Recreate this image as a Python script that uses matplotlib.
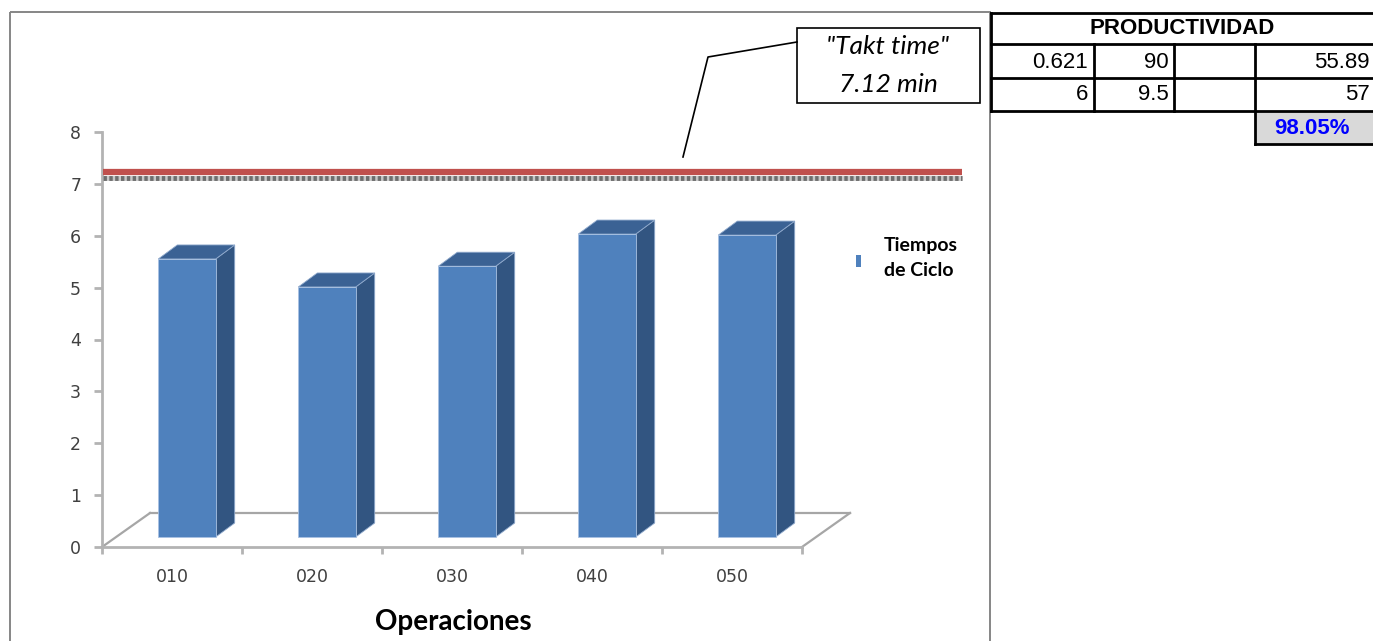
import numpy as np
import matplotlib
matplotlib.use('Agg')
import matplotlib.pyplot as plt
from matplotlib.patches import Polygon, Rectangle

# Data
categories = ['010', '020', '030', '040', '050']
tiempos_ciclo = [5.36, 4.82, 5.22, 5.84, 5.82]
takt_time = 7.12
y_ticks = [0, 1, 2, 3, 4, 5, 6, 7, 8]

# Table on the right
tabla_titulo = 'PRODUCTIVIDAD'
fila_1 = ['0.621', '90', '', '55.89']
fila_2 = ['6', '9.5', '', '57']
productividad = '98.05%'

W, H = 1373, 641
fig = plt.figure(figsize=(W / 100, H / 100), dpi=100)

# overlay axes in pixel coordinates for frame, callout and table
ov = fig.add_axes([0, 0, 1, 1], zorder=0)
ov.set_xlim(0, W)
ov.set_ylim(H, 0)
ov.axis('off')

# chart area frame
ov.add_patch(Rectangle((10, 12), 980, 640, fill=False, ec='#868686', lw=1.4))

# main axes (front plane of the 3D chart)
ax = fig.add_axes([102 / W, 1 - 547 / H, 700 / W, 415 / H], zorder=1)
ax.set_facecolor('none')
n = len(categories)
ax.set_xlim(0, n)
ax.set_ylim(0, 8)
sx = 700 / n      # px per x unit
sy = 415 / 8      # px per y unit

for s in ['top', 'right']:
    ax.spines[s].set_visible(False)
for s in ['left', 'bottom']:
    ax.spines[s].set_color('#b3b3b3')
    ax.spines[s].set_linewidth(2)

ax.set_yticks(y_ticks)
ax.tick_params(axis='y', length=6, width=2, color='#b3b3b3', pad=9,
               labelsize=12.5, labelcolor='#404040')
ax.set_xticks(np.arange(n) + 0.5)
ax.set_xticklabels(categories)
ax.set_xticks(np.arange(n + 1), minor=True)
ax.tick_params(axis='x', which='major', length=0, pad=15,
               labelsize=12.5, labelcolor='#404040')
ax.tick_params(axis='x', which='minor', length=5, width=2, color='#b3b3b3')

# floor (depth 48 x 34 px)
fx, fy = 48 / sx, 34 / sy
floor_kw = dict(color='#a6a6a6', lw=1.6, clip_on=False, zorder=1)
ax.plot([fx, n + fx], [fy, fy], **floor_kw)
ax.plot([0, fx], [0, fy], **floor_kw)
ax.plot([n, n + fx], [0, fy], **floor_kw)

# 3D bars
ox, oy = 15 / sx, 10 / sy      # front face shift
dx, dy = 19 / sx, 14 / sy      # bar depth
hw = 0.205
for i, v in enumerate(tiempos_ciclo):
    c = i + 0.5
    x0, x1 = c - hw + ox, c + hw + ox
    y0, y1 = oy, v + oy
    side = Polygon([(x1, y0), (x1, y1), (x1 + dx, y1 + dy), (x1 + dx, y0 + dy)],
                   closed=True, fc='#325581', ec='#8fa9cc', lw=0.6, zorder=3)
    top = Polygon([(x0, y1), (x1, y1), (x1 + dx, y1 + dy), (x0 + dx, y1 + dy)],
                  closed=True, fc='#3b6294', ec='#8fa9cc', lw=0.6, zorder=3)
    front = Rectangle((x0, y0), x1 - x0, y1 - y0, fc='#4f81bd',
                      ec='#a9c1e2', lw=0.6, zorder=4)
    for p in (side, top, front):
        p.set_clip_on(False)
        ax.add_patch(p)

# takt time line
x_end = (962 - 102) / sx
ax.plot([0.01, x_end], [takt_time, takt_time], color='#c8c8c8', lw=3.5,
        solid_capstyle='butt', clip_on=False, zorder=5)
ax.plot([0.01, x_end], [takt_time, takt_time], color='#6e6e6e', lw=3.5,
        ls=(0, (0.7, 0.5)), clip_on=False, zorder=5)
ax.plot([0.01, x_end], [takt_time + 5.5 / sy] * 2, color='#c0504d', lw=4.5,
        solid_capstyle='butt', clip_on=False, zorder=5)

fig.text(453 / W, 1 - 622 / H, 'Operaciones', ha='center', va='center',
         fontsize=20, fontweight='bold', family='Lato')

# callout
ov.add_patch(Rectangle((797, 28), 183, 75, fill=False, ec='black', lw=1.2))
ov.plot([797, 708, 683], [42, 57, 157], color='black', lw=1.2)
ov.text(888, 47, '"Takt time"', ha='center', va='center', fontsize=19,
        style='italic', family='Lato')
ov.text(888, 84, '%.2f min' % takt_time, ha='center', va='center', fontsize=19,
        style='italic', family='Lato')

# legend
ov.add_patch(Rectangle((856, 255), 5, 12, fc='#4f81bd', ec='none'))
ov.text(884, 245, 'Tiempos', ha='left', va='center', fontsize=14,
        fontweight='bold', family='Lato')
ov.text(884, 271, 'de Ciclo', ha='left', va='center', fontsize=14,
        fontweight='bold', family='Lato')

# table
ov.add_patch(Rectangle((1255, 111), 130, 33, fc='#d9d9d9', ec='none'))
lk = dict(color='black', lw=2)
for yy in [13, 44, 78, 111]:
    ov.plot([991, W + 5], [yy, yy], **lk)
ov.plot([991, 991], [13, 111], **lk)
ov.plot([1094, 1094], [44, 111], **lk)
ov.plot([1174, 1174], [44, 111], **lk)
ov.plot([1255, 1255], [44, 144], **lk)
ov.plot([1255, W + 5], [144, 144], **lk)

tf = dict(family='Liberation Sans', fontsize=16, va='center')
ov.text(1182, 29, tabla_titulo, ha='center', fontweight='bold', **tf)
col_right = [1088, 1169, 1250, 1370]
for fila, yy in [(fila_1, 62), (fila_2, 95)]:
    for txt, xr in zip(fila, col_right):
        ov.text(xr, yy, txt, ha='right', **tf)
ov.text(1312, 128, productividad, ha='center', fontweight='bold',
        color='#0000ff', **tf)

fig.savefig('out.png', dpi=100)
